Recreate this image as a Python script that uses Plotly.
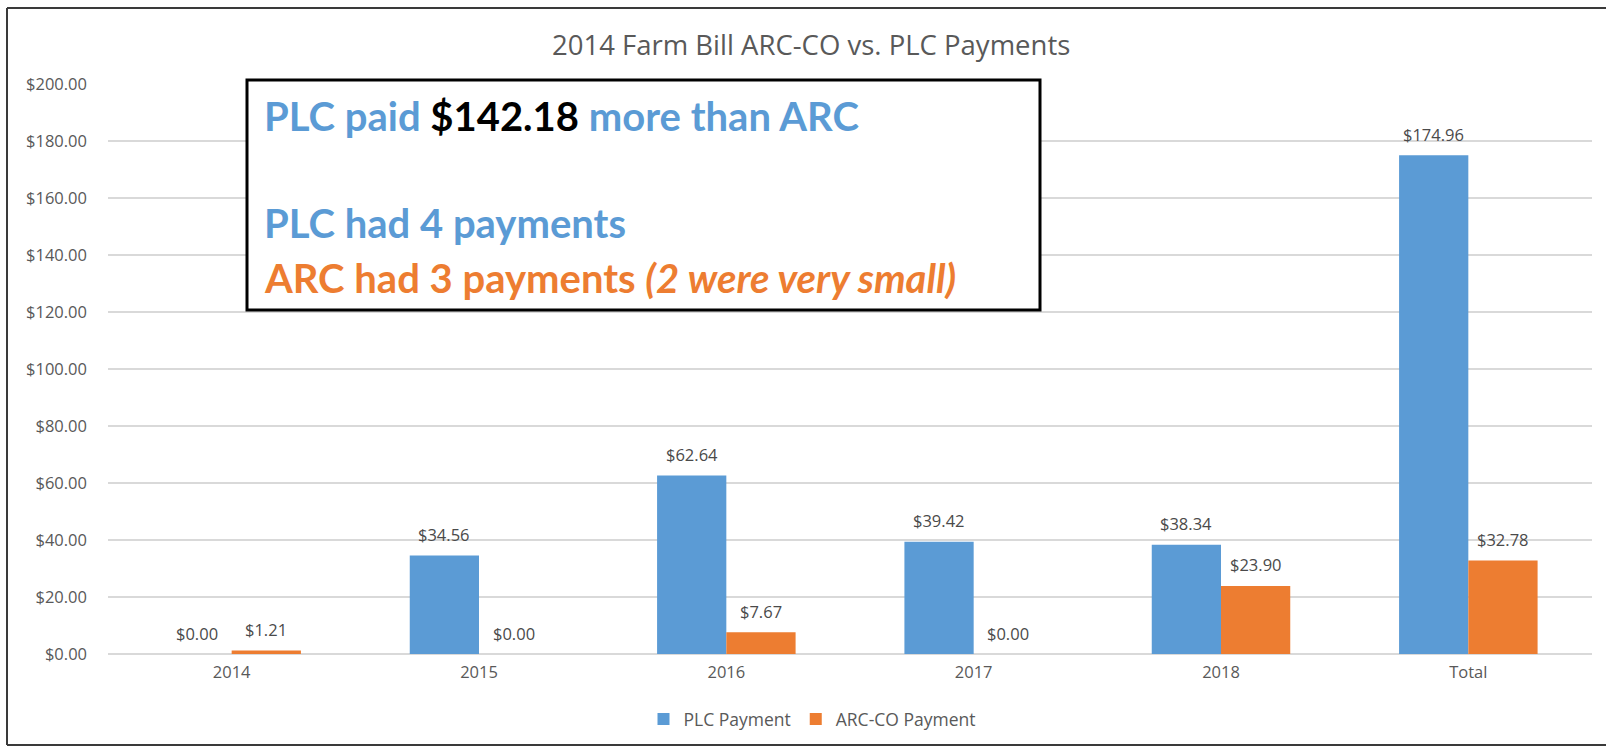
import plotly.graph_objects as go

categories = ["2014", "2015", "2016", "2017", "2018", "Total"]
plc_values = [0.00, 34.56, 62.64, 39.42, 38.34, 174.96]
arc_values = [1.21, 0.00, 7.67, 0.00, 23.90, 32.78]
y_ticks = [0, 20, 40, 60, 80, 100, 120, 140, 160, 180, 200]

BLUE = "#5B9BD5"
ORANGE = "#ED7D31"
GREY = "#595959"
FONT = "Open Sans"

W, H = 1606, 746
L, R, T, B = 108, 14, 84, 92
pw = W - L - R
ph = H - T - B

def px_x(x):
    return (x - L) / pw

def px_y(y):
    return (H - B - y) / ph

fig = go.Figure()
fig.add_trace(go.Bar(name="PLC Payment", x=categories, y=plc_values,
                     marker=dict(color=BLUE, line=dict(width=0))))
fig.add_trace(go.Bar(name="ARC-CO Payment", x=categories, y=arc_values,
                     marker=dict(color=ORANGE, line=dict(width=0))))

# data labels (category index positions on the category axis)
BARGAP = 0.44
bar_w = pw / len(categories) * (1 - BARGAP) / 2
annotations = []
for series, shift in ((plc_values, -bar_w / 2), (arc_values, bar_w / 2)):
    for i, v in enumerate(series):
        annotations.append(dict(x=i, y=v, xref="x", yref="y", text=f"${v:,.2f}",
                                showarrow=False, xshift=shift, yshift=21,
                                font=dict(family=FONT, size=16.5, color="#4A4A4A")))

# text box
tx = px_x(262)
BOX_SIZE = 40
annotations += [
    dict(xref="paper", yref="paper", x=tx, y=px_y(116), xanchor="left", yanchor="middle",
         showarrow=False, align="left",
         text="<b>PLC paid <span style='color:#000000'>$142.18</span> more than ARC</b>",
         font=dict(family="Lato", size=BOX_SIZE, color=BLUE)),
    dict(xref="paper", yref="paper", x=tx, y=px_y(223), xanchor="left", yanchor="middle",
         showarrow=False, align="left", text="<b>PLC had 4 payments</b>",
         font=dict(family="Lato", size=BOX_SIZE, color=BLUE)),
    dict(xref="paper", yref="paper", x=tx, y=px_y(278), xanchor="left", yanchor="middle",
         showarrow=False, align="left",
         text="<b>ARC had 3 payments <i>(2 were very small)</i></b>",
         font=dict(family="Lato", size=BOX_SIZE, color=ORANGE)),
    dict(xref="paper", yref="paper", x=px_x(811), y=px_y(44), xanchor="center", yanchor="middle",
         showarrow=False, text="2014 Farm Bill ARC-CO vs. PLC Payments",
         font=dict(family=FONT, size=27.5, color=GREY)),
]

frame = dict(color="#3A3A3A", width=2)
shapes = [
    dict(type="line", xref="paper", yref="paper", x0=px_x(7), x1=px_x(7),
         y0=px_y(745), y1=px_y(8), line=frame, layer="below"),
    dict(type="line", xref="paper", yref="paper", x0=px_x(7), x1=px_x(1606),
         y0=px_y(8), y1=px_y(8), line=frame, layer="below"),
    dict(type="line", xref="paper", yref="paper", x0=px_x(7), x1=px_x(1606),
         y0=px_y(745), y1=px_y(745), line=frame, layer="below"),
    dict(type="rect", xref="paper", yref="paper", x0=px_x(247), x1=px_x(1040),
         y0=px_y(310), y1=px_y(80), line=dict(color="#000000", width=3),
         fillcolor="white", layer="above"),
]

fig.update_layout(
    width=W, height=H,
    margin=dict(l=L, r=R, t=T, b=B, autoexpand=False),
    paper_bgcolor="white", plot_bgcolor="white",
    barmode="group", bargap=BARGAP, bargroupgap=0,
    font=dict(family=FONT, size=16, color=GREY),
    showlegend=True,
    legend=dict(orientation="h", x=px_x(812), xanchor="center", y=px_y(719), yanchor="middle",
                font=dict(family=FONT, size=17.5, color=GREY)),
    annotations=annotations,
    shapes=shapes,
    xaxis=dict(type="category", range=[-0.5, len(categories) - 0.5], showgrid=False,
               showline=False, ticks="", ticklabelstandoff=6,
               tickfont=dict(family=FONT, size=16.5, color=GREY)),
    yaxis=dict(range=[0, 200], tickvals=y_ticks, ticktext=[f"${v:,.2f}" for v in y_ticks],
               showgrid=True, gridcolor="#D9D9D9", gridwidth=1.5, zeroline=True,
               zerolinecolor="#D9D9D9", zerolinewidth=1.5, ticks="", ticklabelstandoff=20,
               tickfont=dict(family=FONT, size=16.5, color=GREY)),
)

fig.write_html("out.html", config={"displayModeBar": False},
               post_script="document.body.style.margin='0';document.body.style.overflow='hidden';")
